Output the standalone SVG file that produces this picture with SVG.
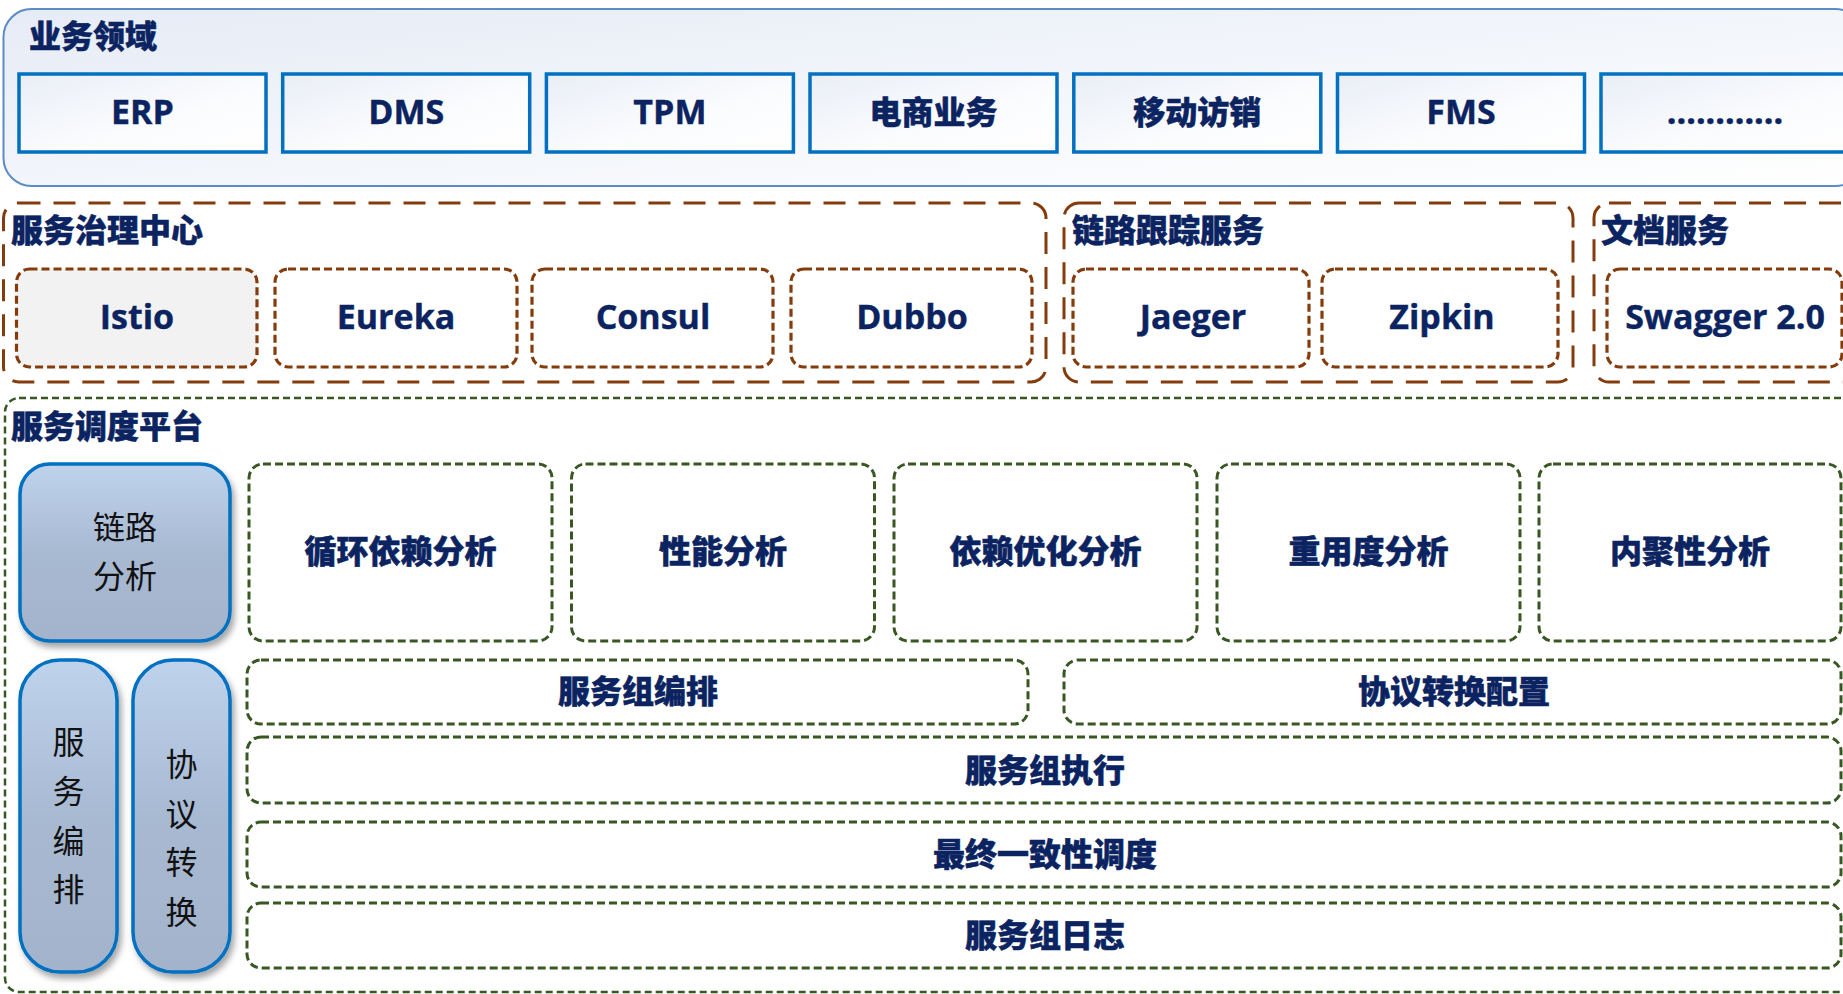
<svg xmlns="http://www.w3.org/2000/svg" width="1843" height="994" viewBox="0 0 1843 994">
<defs>
<linearGradient id="panelG" x1="0" y1="0" x2="1" y2="1"><stop offset="0" stop-color="#e6ecf6"/><stop offset="1" stop-color="#ffffff"/></linearGradient>
<linearGradient id="boxG" x1="0" y1="0" x2="1" y2="1"><stop offset="0" stop-color="#e9eef6"/><stop offset="0.6" stop-color="#fbfcfe"/><stop offset="1" stop-color="#ffffff"/></linearGradient>
<linearGradient id="blueG" x1="0" y1="0" x2="0" y2="1"><stop offset="0" stop-color="#bfd3ed"/><stop offset="0.5" stop-color="#a8b9d2"/><stop offset="1" stop-color="#a2b3cb"/></linearGradient>
<filter id="sh" x="-20%" y="-20%" width="140%" height="140%"><feDropShadow dx="3" dy="5" stdDeviation="3" flood-color="#000" flood-opacity="0.35"/></filter>
<style>
.t{font-family:"Noto Sans CJK SC","Noto Sans",sans-serif;font-weight:900;fill:#0b2461;stroke:#0b2461;stroke-width:0.5;}
.title{font-size:32px;}
.bt{font-size:32px;text-anchor:middle;}
.lt{font-family:"Open Sans","Noto Sans","Noto Sans CJK SC",sans-serif;font-weight:700;fill:#0b2461;stroke:#0b2461;stroke-width:0.4;font-size:34px;text-anchor:middle;}
.rt{font-family:"Noto Sans CJK SC",sans-serif;font-weight:400;fill:#111;font-size:32px;text-anchor:middle;}
.biz{fill:url(#boxG);stroke:#0070c0;stroke-width:3.5;}
.obr{fill:none;stroke:#843c0c;stroke-width:3;stroke-dasharray:22 13;}
.ibr{fill:#fff;stroke:#843c0c;stroke-width:3.2;stroke-dasharray:8 4;}
.gr{fill:#fff;stroke:#385723;stroke-width:3;stroke-dasharray:8 4;}
.ogr{fill:none;stroke:#385723;stroke-width:2.5;stroke-dasharray:7 4;}
.blue{fill:url(#blueG);stroke:#0070c0;stroke-width:3.5;filter:url(#sh);}
</style>
</defs>
<rect width="1843" height="994" fill="#ffffff"/>

<g id="business-domain">
<rect x="3.5" y="9" width="1860" height="177" rx="28" fill="url(#panelG)" stroke="#5b8cc6" stroke-width="2"/>
<text class="t title" x="29" y="48">业务领域</text>
</g>
<g id="erp"><rect class="biz" x="19" y="74" width="247" height="78"/><text class="lt" x="142.5" y="124">ERP</text></g>
<g id="dms"><rect class="biz" x="282.7" y="74" width="247" height="78"/><text class="lt" x="406.2" y="124">DMS</text></g>
<g id="tpm"><rect class="biz" x="546.4" y="74" width="247" height="78"/><text class="lt" x="669.9" y="124">TPM</text></g>
<g id="ecommerce"><rect class="biz" x="810" y="74" width="247" height="78"/><text class="t bt" x="933.5" y="124">电商业务</text></g>
<g id="mobile"><rect class="biz" x="1073.8" y="74" width="247" height="78"/><text class="t bt" x="1197.3" y="124">移动访销</text></g>
<g id="fms"><rect class="biz" x="1337.5" y="74" width="247" height="78"/><text class="lt" x="1461" y="124">FMS</text></g>
<g id="more"><rect class="biz" x="1601" y="74" width="260" height="78"/><text class="lt" x="1725" y="124">............</text></g>

<g id="governance">
<rect class="obr" x="3.5" y="203" width="1042.5" height="179" rx="15"/>
<text class="t title" x="11" y="242">服务治理中心</text>
</g>
<g id="istio"><rect class="ibr" x="16.5" y="269" width="240.5" height="98" rx="13" style="fill:#f2f2f2"/><text class="lt" x="137" y="329">Istio</text></g>
<g id="eureka"><rect class="ibr" x="275" y="269" width="242" height="98" rx="13"/><text class="lt" x="396" y="329">Eureka</text></g>
<g id="consul"><rect class="ibr" x="532" y="269" width="241" height="98" rx="13"/><text class="lt" x="653" y="329">Consul</text></g>
<g id="dubbo"><rect class="ibr" x="791" y="269" width="241" height="98" rx="13"/><text class="lt" x="912" y="329">Dubbo</text></g>

<g id="tracing">
<rect class="obr" x="1064" y="203" width="509" height="179" rx="15"/>
<text class="t title" x="1072" y="242">链路跟踪服务</text>
</g>
<g id="jaeger"><rect class="ibr" x="1073" y="269" width="236" height="98" rx="13"/><text class="lt" x="1193" y="329">Jaeger</text></g>
<g id="zipkin"><rect class="ibr" x="1322" y="269" width="236" height="98" rx="13"/><text class="lt" x="1442" y="329">Zipkin</text></g>

<g id="docs">
<rect class="obr" x="1594" y="203" width="270" height="179" rx="15"/>
<text class="t title" x="1601" y="242">文档服务</text>
</g>
<g id="swagger"><rect class="ibr" x="1607" y="269" width="235" height="98" rx="13"/><text class="lt" x="1725" y="329">Swagger 2.0</text></g>

<g id="scheduling">
<rect class="ogr" x="5" y="398" width="1860" height="594" rx="14"/>
<text class="t title" x="11" y="438">服务调度平台</text>
</g>
<g id="trace-analysis"><rect class="blue" x="20" y="464" width="210" height="177" rx="30"/><text class="rt" x="125" y="539">链路</text><text class="rt" x="125" y="588">分析</text></g>
<g id="orchestration"><rect class="blue" x="20" y="660" width="97" height="312" rx="40"/>
<text class="rt" x="68.5" y="754">服</text><text class="rt" x="68.5" y="803">务</text><text class="rt" x="68.5" y="853">编</text><text class="rt" x="68.5" y="901">排</text></g>
<g id="protocol"><rect class="blue" x="133" y="660" width="97" height="312" rx="40"/>
<text class="rt" x="181.5" y="776">协</text><text class="rt" x="181.5" y="826">议</text><text class="rt" x="181.5" y="874">转</text><text class="rt" x="181.5" y="924">换</text></g>

<g id="cycle"><rect class="gr" x="249" y="464" width="303" height="177" rx="14"/><text class="t bt" x="400.5" y="563">循环依赖分析</text></g>
<g id="perf"><rect class="gr" x="571.5" y="464" width="303" height="177" rx="14"/><text class="t bt" x="723" y="563">性能分析</text></g>
<g id="depopt"><rect class="gr" x="894" y="464" width="303" height="177" rx="14"/><text class="t bt" x="1045.5" y="563">依赖优化分析</text></g>
<g id="reuse"><rect class="gr" x="1217" y="464" width="303" height="177" rx="14"/><text class="t bt" x="1368.5" y="563">重用度分析</text></g>
<g id="cohesion"><rect class="gr" x="1539" y="464" width="302" height="177" rx="14"/><text class="t bt" x="1690" y="563">内聚性分析</text></g>

<g id="group-orch"><rect class="gr" x="247" y="660" width="781" height="64" rx="14"/><text class="t bt" x="638" y="703">服务组编排</text></g>
<g id="proto-config"><rect class="gr" x="1064" y="660" width="777" height="64" rx="14"/><text class="t bt" x="1454" y="703">协议转换配置</text></g>
<g id="group-exec"><rect class="gr" x="247" y="737" width="1594" height="66" rx="14"/><text class="t bt" x="1045" y="782">服务组执行</text></g>
<g id="eventual"><rect class="gr" x="247" y="822" width="1594" height="65" rx="14"/><text class="t bt" x="1045" y="866">最终一致性调度</text></g>
<g id="group-log"><rect class="gr" x="247" y="903" width="1594" height="65" rx="14"/><text class="t bt" x="1045" y="947">服务组日志</text></g>

<g id="connectors"></g>
</svg>
